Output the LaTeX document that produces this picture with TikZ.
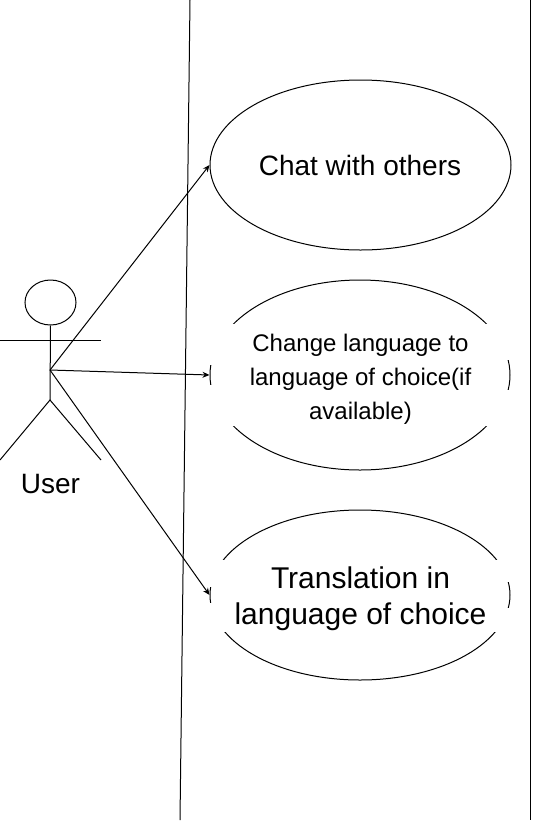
\documentclass[tikz,border=0pt]{standalone}
\usepackage{fontspec}
\setmainfont{Liberation Sans}
\usetikzlibrary{shapes.geometric,arrows.meta}
\tikzset{
  usecase/.style={draw=black,ellipse,line width=1pt,inner sep=0pt,minimum width=#1},
  lbl/.style={fill=white,inner sep=0pt,align=center,text=black},
  conn/.style={line width=1pt,-{Stealth[length=7pt,width=6pt]},shorten >=0pt,shorten <=0pt},
  ln/.style={line width=1pt,draw=black}
}
\begin{document}
\begin{tikzpicture}[x=1pt,y=-1pt]
\useasboundingbox (0,0) rectangle (533,823);
\fill[white] (0,0) rectangle (533,823);
% system boundary
\coordinate (bt1) at (190,0); \coordinate (bb1) at (180,820);
\coordinate (bt2) at (530,0); \coordinate (bb2) at (530,820);
\draw[ln] (bt1) -- (bb1);
\draw[ln] (bt2) -- (bb2);
% actor
\node[draw=black,ellipse,line width=1pt,minimum width=51pt,minimum height=45pt,inner sep=0pt] (head) at (50.5,302.5) {};
\coordinate (hub) at (50,370);
\coordinate (hip) at (50,400);
\coordinate (armL) at (0,340);
\coordinate (armR) at (101,340);
\coordinate (legL) at (0,460);
\coordinate (legR) at (101,460);
\draw[ln] (head.south) -- (hip);
\draw[ln] (armL) -- (armR);
\draw[ln] (legL) -- (hip) -- (legR);
\node[text=black,font=\fontsize{28}{32}\selectfont,inner sep=0pt] (user) at (50.5,484) {User};
% use cases
\node[usecase=301pt,minimum height=170pt] (e1) at (360.5,165) {};
\node[usecase=300pt,minimum height=190pt] (e2) at (360,375) {};
\node[usecase=300pt,minimum height=170pt] (e3) at (360,595) {};
\fill[white] (205,324) rectangle (515,360);
\fill[white] (205,390) rectangle (515,426);
\fill[white] (205,360) rectangle (213,365);
\fill[white] (205,385) rectangle (213,390);
\fill[white] (205,560) rectangle (515,582);
\fill[white] (205,608) rectangle (515,632);
\fill[white] (205,582) rectangle (213,587);
\fill[white] (205,603) rectangle (213,608);
\node[text=black,font=\fontsize{28}{32}\selectfont,inner sep=0pt] (t1) at (360,165) {Chat with others};
\node[lbl,minimum width=255pt,minimum height=92pt,font=\fontsize{24}{34}\selectfont] (t2) at (360.5,379) {Change language to\\language of choice(if\\available)};
\node[lbl,minimum width=273pt,minimum height=66pt,font=\fontsize{30}{35.5}\selectfont] (t3) at (360.5,598.5) {Translation in\\language of choice};
% connectors
\draw[conn] (hub) -- (e1.west);
\draw[conn] (hub) -- (e2.west);
\draw[conn] (hub) -- (e3.west);
\end{tikzpicture}
\end{document}
